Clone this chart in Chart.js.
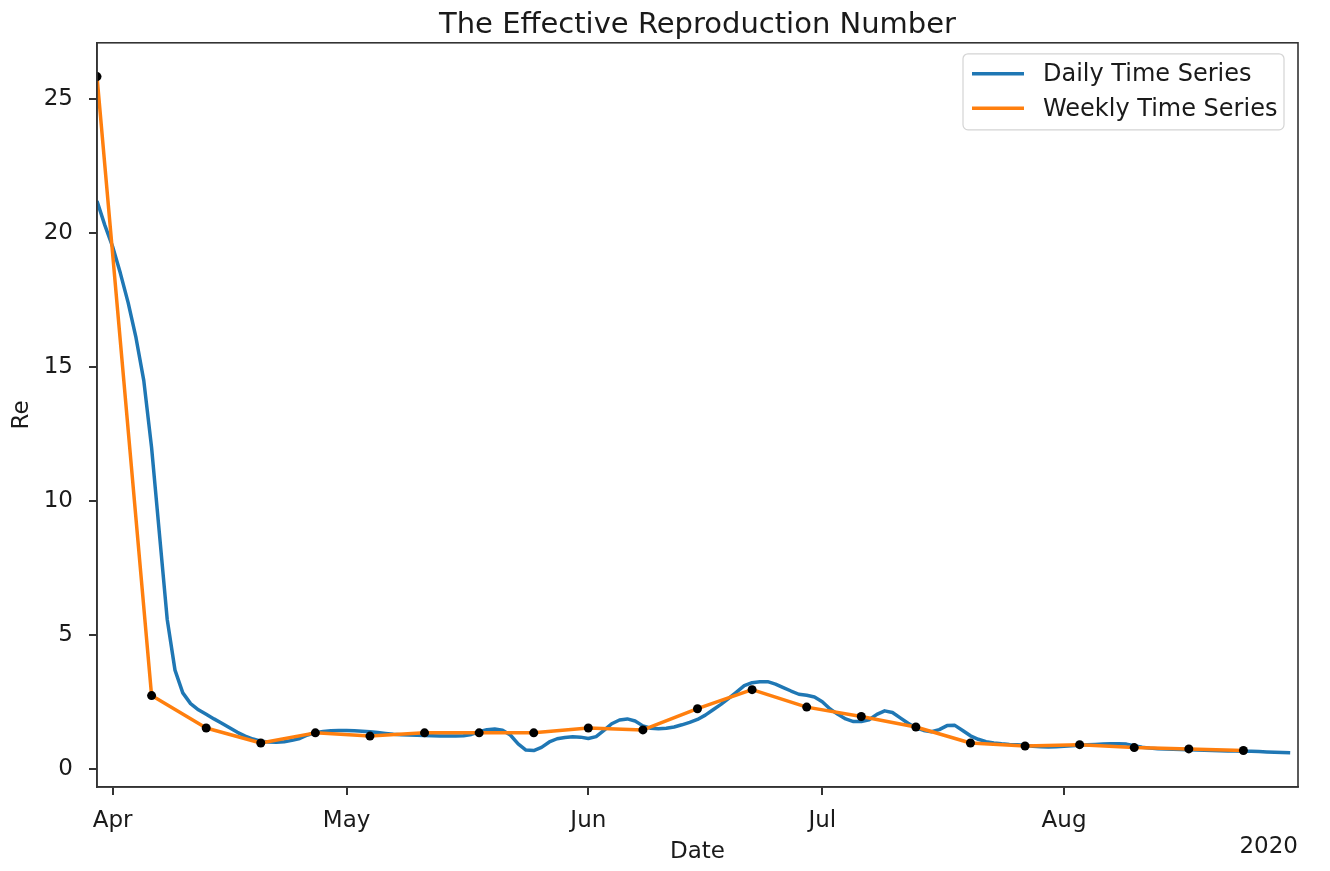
<!DOCTYPE html>
<html>
<head>
<meta charset="utf-8">
<title>The Effective Reproduction Number</title>
<script src="https://cdn.jsdelivr.net/npm/chart.js@4.4.1/dist/chart.umd.min.js"></script>
<style>
  body { margin: 0; background: #fff; }
  #wrap { width: 1330px; height: 871px; }
</style>
</head>
<body>
<div id="wrap"><canvas id="chart" width="1330" height="871"></canvas></div>
<script>
// daily Re, one value per day starting 2020-03-30
const dailyStart = '2020-03-30';
const dailyRe = [
  21.2, 20.3, 19.5, 18.5, 17.4, 16.1, 14.5, 12.0, 8.8, 5.6,
  3.7, 2.85, 2.45, 2.22, 2.05, 1.88, 1.72, 1.55, 1.38, 1.24,
  1.13, 1.05, 1.02, 1.01, 1.03, 1.08, 1.15, 1.28, 1.36, 1.41,
  1.44, 1.45, 1.45, 1.44, 1.42, 1.40, 1.37, 1.34, 1.31, 1.29,
  1.28, 1.27, 1.26, 1.25, 1.24, 1.24, 1.24, 1.25, 1.30, 1.40,
  1.48, 1.50, 1.46, 1.28, 0.95, 0.72, 0.70, 0.82, 1.02, 1.14,
  1.19, 1.21, 1.20, 1.15, 1.22, 1.45, 1.70, 1.84, 1.88, 1.80,
  1.62, 1.53, 1.51, 1.53, 1.58, 1.66, 1.75, 1.86, 2.02, 2.22,
  2.42, 2.65, 2.88, 3.12, 3.23, 3.27, 3.27, 3.18, 3.05, 2.92,
  2.80, 2.76, 2.70, 2.52, 2.25, 2.05, 1.88, 1.78, 1.78, 1.85,
  2.05, 2.18, 2.12, 1.92, 1.72, 1.55, 1.45, 1.40, 1.48, 1.63,
  1.64, 1.45, 1.25, 1.12, 1.03, 0.98, 0.95, 0.93, 0.92, 0.90,
  0.86, 0.84, 0.83, 0.84, 0.86, 0.88, 0.90, 0.92, 0.93, 0.94,
  0.95, 0.95, 0.94, 0.88, 0.82, 0.79, 0.77, 0.76, 0.75, 0.74,
  0.73, 0.72, 0.71, 0.70, 0.69, 0.68, 0.68, 0.67, 0.67, 0.66,
  0.65, 0.64, 0.63, 0.62
];
const weeklyDates = [
  '2020-03-30', '2020-04-06', '2020-04-13', '2020-04-20', '2020-04-27',
  '2020-05-04', '2020-05-11', '2020-05-18', '2020-05-25', '2020-06-01',
  '2020-06-08', '2020-06-15', '2020-06-22', '2020-06-29', '2020-07-06',
  '2020-07-13', '2020-07-20', '2020-07-27', '2020-08-03', '2020-08-10',
  '2020-08-17', '2020-08-24'
];
const weeklyRe = [
  25.84, 2.75, 1.54, 0.98, 1.36, 1.24, 1.36, 1.36, 1.36, 1.54,
  1.47, 2.26, 2.97, 2.32, 1.97, 1.58, 0.98, 0.87, 0.92, 0.81,
  0.76, 0.70
];
const monthTicks = ['2020-04-01', '2020-05-01', '2020-06-01', '2020-07-01', '2020-08-01'];
const monthLabels = ['Apr', 'May', 'Jun', 'Jul', 'Aug'];
const xRange = ['2020-03-30', '2020-08-31'];
const yTicks = [0, 5, 10, 15, 20, 25];

const blue = '#1f77b4';
const orange = '#ff7f0e';
const ink = '#1a1a1a';
const font = 'DejaVu Sans';

// x positions are days counted from 1 April 2020
const origin = Date.UTC(2020, 3, 1);
function dayOf(s) {
  const p = s.split('-').map(Number);
  return (Date.UTC(p[0], p[1] - 1, p[2]) - origin) / 86400000;
}
const monthDays = monthTicks.map(dayOf);
const d0 = dayOf(dailyStart);
const dailyPts = dailyRe.map((v, i) => ({ x: d0 + i, y: v }));
const weeklyPts = weeklyRe.map((v, i) => ({ x: dayOf(weeklyDates[i]), y: v }));

// box round the plot, like matplotlib spines
const spines = {
  id: 'spines',
  afterDatasetsDraw(chart) {
    const { ctx, chartArea: a } = chart;
    ctx.save();
    ctx.strokeStyle = '#333';
    ctx.lineWidth = 1.6;
    ctx.strokeRect(a.left, a.top, a.right - a.left, a.bottom - a.top);
    ctx.restore();
  }
};

// legend in the upper right corner of the axes
const boxLegend = {
  id: 'boxLegend',
  afterDraw(chart) {
    const { ctx, chartArea: a } = chart;
    const w = 321, h = 76;
    const x = a.right - 14 - w, y = a.top + 11;
    ctx.save();
    ctx.beginPath();
    ctx.roundRect(x, y, w, h, 5);
    ctx.fillStyle = 'rgba(255,255,255,0.8)';
    ctx.fill();
    ctx.strokeStyle = '#d4d4d4';
    ctx.lineWidth = 1.2;
    ctx.stroke();
    const items = chart.data.datasets.filter(d => d.label);
    items.forEach((d, i) => {
      const cy = y + 20 + i * 34.5;
      ctx.beginPath();
      ctx.moveTo(x + 9, cy);
      ctx.lineTo(x + 61, cy);
      ctx.strokeStyle = d.borderColor;
      ctx.lineWidth = 3.5;
      ctx.stroke();
      ctx.fillStyle = ink;
      ctx.font = '24px "' + font + '"';
      ctx.textAlign = 'left';
      ctx.textBaseline = 'middle';
      ctx.fillText(d.label, x + 80, cy + 1);
    });
    ctx.restore();
  }
};

// year offset text under the right end of the date axis
const yearText = {
  id: 'yearText',
  afterDraw(chart) {
    const { ctx, chartArea: a } = chart;
    ctx.save();
    ctx.fillStyle = ink;
    ctx.font = '23px "' + font + '"';
    ctx.textAlign = 'right';
    ctx.textBaseline = 'middle';
    ctx.fillText('2020', a.right, 847);
    ctx.restore();
  }
};

Chart.defaults.font.family = font;
Chart.defaults.color = ink;

new Chart(document.getElementById('chart'), {
  type: 'line',
  data: {
    datasets: [
      {
        label: 'Daily Time Series',
        data: dailyPts,
        borderColor: blue,
        backgroundColor: blue,
        borderWidth: 3.5,
        borderJoinStyle: 'round',
        pointRadius: 0,
        tension: 0,
        order: 3
      },
      {
        label: 'Weekly Time Series',
        data: weeklyPts,
        borderColor: orange,
        backgroundColor: orange,
        borderWidth: 3.5,
        borderJoinStyle: 'round',
        pointRadius: 0,
        tension: 0,
        order: 2
      },
      {
        data: weeklyPts,
        showLine: false,
        pointRadius: 4.5,
        pointBackgroundColor: '#000',
        pointBorderWidth: 0,
        order: 1
      }
    ]
  },
  options: {
    responsive: false,
    animation: false,
    devicePixelRatio: 1,
    layout: { padding: { left: 0, right: 32, top: 0, bottom: 0 } },
    plugins: {
      legend: { display: false },
      tooltip: { enabled: false },
      title: {
        display: true,
        text: 'The Effective Reproduction Number',
        fullSize: false,
        color: ink,
        font: { size: 29, weight: 'normal' },
        padding: { top: 8, bottom: 0 }
      }
    },
    scales: {
      x: {
        type: 'linear',
        min: dayOf(xRange[0]),
        max: dayOf(xRange[1]),
        afterBuildTicks(scale) {
          scale.ticks = monthDays.map(v => ({ value: v }));
        },
        afterFit(scale) { scale.height = 84; },
        ticks: {
          autoSkip: false,
          maxRotation: 0,
          padding: 12,
          color: ink,
          font: { size: 23 },
          callback: v => monthLabels[monthDays.indexOf(v)]
        },
        grid: { drawOnChartArea: false, drawTicks: true, tickLength: 8, color: '#333', lineWidth: 2 },
        border: { display: true, color: '#333', width: 1.6 },
        title: { display: true, text: 'Date', color: ink, font: { size: 23 }, padding: { top: 0, bottom: 5 } }
      },
      y: {
        min: -0.66,
        max: 27.1,
        afterBuildTicks(scale) {
          scale.ticks = yTicks.map(v => ({ value: v }));
        },
        afterFit(scale) { scale.width = 97; },
        ticks: { padding: 16, color: ink, font: { size: 23 } },
        grid: { drawOnChartArea: false, drawTicks: true, tickLength: 8, color: '#333', lineWidth: 2 },
        border: { display: true, color: '#333', width: 1.6 },
        title: { display: true, text: 'Re', color: ink, font: { size: 23 }, padding: { top: 8, bottom: 0 } }
      }
    }
  },
  plugins: [spines, boxLegend, yearText]
});
</script>
</body>
</html>
